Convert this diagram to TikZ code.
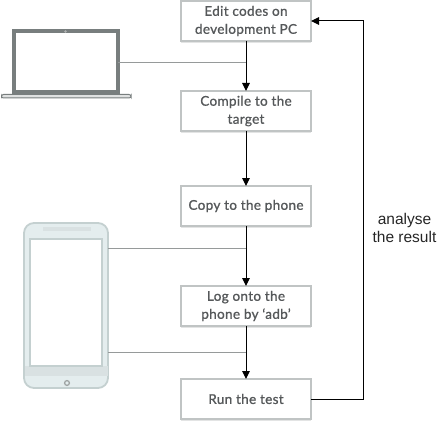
\documentclass[tikz,border=0pt]{standalone}
\usepackage{fontspec}
\setmainfont{Lato}[FakeBold=1,LetterSpace=2.5]
\newfontfamily\labelfont{Liberation Sans}
\usetikzlibrary{positioning}
\usetikzlibrary{arrows.meta}
\usetikzlibrary{shadows}
\definecolor{boxgray}{RGB}{192,196,196}
\definecolor{textgray}{RGB}{85,88,90}
\definecolor{lapgray}{RGB}{120,126,126}
\definecolor{wiregray}{RGB}{150,154,154}
\definecolor{phoneedge}{RGB}{196,208,208}
\definecolor{phonebody}{RGB}{228,237,238}
\definecolor{phoneband}{RGB}{217,225,226}
\tikzset{
  stepbox/.style={draw=boxgray,line width=1.6pt,fill=white,minimum width=130pt,minimum height=40pt,
    inner sep=0pt,outer sep=0pt,align=center,text=textgray,font=\fontsize{13.5}{18}\selectfont,
    drop shadow={shadow xshift=0pt,shadow yshift=-1.8pt,fill=boxgray,opacity=0.45}},
  twoline/.style={stepbox,execute at begin node={\rule{0pt}{12.5pt}}},
  flow/.style={-{Triangle[length=8pt,width=7.5pt]},line width=1pt},
  wire/.style={draw=wiregray,line width=0.8pt}
}
\begin{document}
\begin{tikzpicture}[x=1pt,y=-1pt]
\useasboundingbox (0,0) rectangle (443,422);
\node[twoline](edit) at (246,21){Edit codes on\\development PC};
\node[twoline, below = 50pt of edit](compile){Compile to the\\target};
\node[stepbox, below = 55pt of compile](copy){Copy to the phone};
\node[twoline, below = 60pt of copy](log){Log onto the\\phone by ‘adb’};
\node[stepbox, below = 53pt of log](run){Run the test};
% laptop
\draw[draw=lapgray,fill=boxgray!50,line width=1pt,rounded corners=2pt] (1.5,94.5) rectangle (131,98);
\node[draw=lapgray,line width=4pt,fill=white,minimum width=104pt,minimum height=61pt,inner sep=0pt,outer sep=0pt](laptop) at (66,62){};
\fill[lapgray!60] (65.5,31.5) circle (1.4pt);
% phone
\node[draw=phoneedge,fill=phonebody,line width=1.8pt,rounded corners=10pt,minimum width=84pt,minimum height=165pt,inner sep=0pt,outer sep=0pt](phone) at (66,305.5){};
\fill[phoneband] (24.5,366) rectangle (107.5,376);
\fill[phoneband] (43,227) rectangle (91,231);
\node[draw=phoneedge,fill=white,line width=1.8pt,minimum width=72pt,minimum height=127pt,inner sep=0pt,outer sep=0pt](screen) at (66,302.5){};
\draw[draw=lapgray!70,line width=1.3pt,fill=phonebody] (67,383) circle (2.4pt);
\coordinate (phoneA) at (108,248);
\coordinate (phoneB) at (108,352);
% wires
\draw[wire] (laptop.east) -- (laptop.east -| edit.south);
\draw[wire] (phoneA) -- (phoneA -| copy.south);
\draw[wire] (phoneB) -- (phoneB -| log.south);
% arrows
\draw[flow] (edit) -- (compile);
\draw[flow] (compile) -- (copy);
\draw[flow] (copy) -- (log);
\draw[flow] (log) -- (run);
\coordinate (turn) at (363,399);
\draw[flow] (run.east) -- (turn) |- (edit.east);
\node[font=\labelfont\fontsize{15.5}{18}\selectfont,align=center,text=black!85] (result) at (404.5,228){analyse\\the result};
\end{tikzpicture}
\end{document}
